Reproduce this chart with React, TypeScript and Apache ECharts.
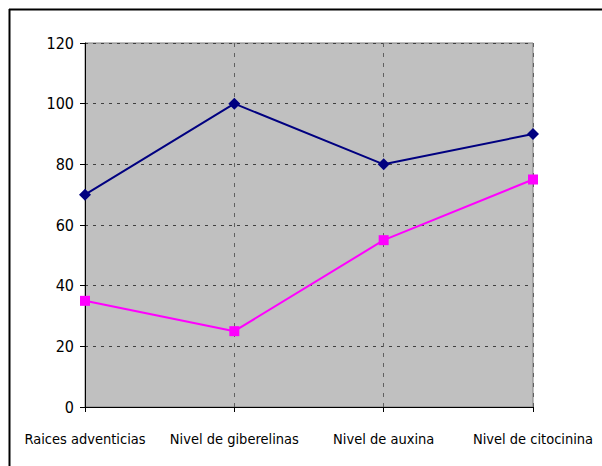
import React, { useEffect, useRef } from "react";
import * as echarts from "echarts";

const categories = ["Raices adventicias", "Nivel de giberelinas", "Nivel de auxina", "Nivel de citocinina"];
const seriesNavy = [70, 100, 80, 90];
const seriesMagenta = [35, 25, 55, 75];
const yMin = 0;
const yMax = 120;
const yInterval = 20;

const FONT = "'DejaVu Sans Condensed', 'Liberation Sans', sans-serif";

export default function App() {
  const ref = useRef<HTMLDivElement>(null);
  useEffect(() => {
    if (!ref.current) return;
    const chart = echarts.init(ref.current, undefined, { renderer: "svg" });
    chart.setOption({
      animation: false,
      backgroundColor: "#ffffff",
      grid: {
        left: 85,
        top: 43,
        width: 448,
        height: 364,
        containLabel: false,
        outerBoundsMode: "none",
        show: true,
        backgroundColor: "#c0c0c0",
        borderColor: "#808080",
        borderWidth: 1,
      },
      graphic: [
        { type: "line", shape: { x1: 9, y1: 9.5, x2: 602, y2: 9.5 }, style: { stroke: "#000", lineWidth: 2 } },
        { type: "line", shape: { x1: 9.5, y1: 9, x2: 9.5, y2: 466 }, style: { stroke: "#000", lineWidth: 2 } },
      ],
      xAxis: {
        type: "category",
        data: categories,
        boundaryGap: false,
        axisLine: { show: true, lineStyle: { color: "#000", width: 1 } },
        axisTick: { show: true, inside: false, length: 5, lineStyle: { color: "#000" } },
        axisLabel: {
          color: "#000",
          fontFamily: FONT,
          fontSize: 14.5,
          margin: 24,
          interval: 0,
        },
        splitLine: { show: true, lineStyle: { color: "#606060", type: [4, 6], width: 1 } },
      },
      yAxis: {
        type: "value",
        min: yMin,
        max: yMax,
        interval: yInterval,
        axisLine: { show: true, lineStyle: { color: "#000", width: 1 } },
        axisTick: { show: true, inside: false, length: 5, lineStyle: { color: "#000" } },
        axisLabel: {
          color: "#000",
          fontFamily: FONT,
          fontSize: 16,
          margin: 11,
        },
        splitLine: { show: true, lineStyle: { color: "#404040", type: [3, 5], width: 1 } },
      },
      series: [
        {
          type: "line",
          data: seriesNavy,
          symbol: "diamond",
          symbolSize: 12,
          lineStyle: { color: "#000080", width: 2 },
          itemStyle: { color: "#000080" },
        },
        {
          type: "line",
          data: seriesMagenta,
          symbol: "rect",
          symbolSize: 10,
          lineStyle: { color: "#ff00ff", width: 2 },
          itemStyle: { color: "#ff00ff" },
        },
      ],
    });
    return () => chart.dispose();
  }, []);
  return (
    <div
      ref={ref}
      style={{ position: "absolute", left: 0, top: 0, width: 602, height: 466 }}
    />
  );
}
